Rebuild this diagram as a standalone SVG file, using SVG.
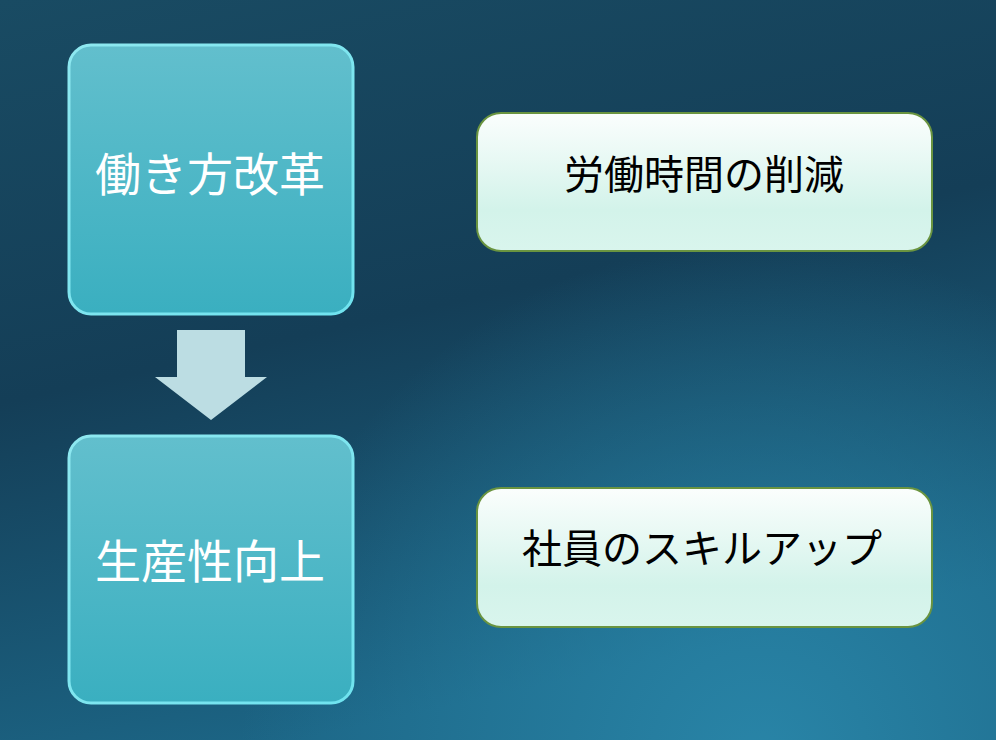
<svg xmlns="http://www.w3.org/2000/svg" width="996" height="740" viewBox="0 0 996 740">
<defs>
<linearGradient id="bg" x1="0" y1="0" x2="0.3" y2="1">
<stop offset="0" stop-color="#194b63"/>
<stop offset="0.5" stop-color="#143e57"/>
<stop offset="1" stop-color="#1c6585"/>
</linearGradient>
<radialGradient id="glow" cx="760" cy="760" r="520" gradientUnits="userSpaceOnUse">
<stop offset="0" stop-color="#2a88ab" stop-opacity="0.9"/>
<stop offset="1" stop-color="#2a88ab" stop-opacity="0"/>
</radialGradient>
<linearGradient id="teal" x1="0" y1="0" x2="0" y2="1">
<stop offset="0" stop-color="#62bfcd"/>
<stop offset="1" stop-color="#3aafc0"/>
</linearGradient>
<linearGradient id="rim" x1="0" y1="0" x2="1" y2="1">
<stop offset="0" stop-color="#8ee8f0"/>
<stop offset="1" stop-color="#6fe3ef"/>
</linearGradient>
<linearGradient id="mint" x1="0" y1="0" x2="0" y2="1">
<stop offset="0" stop-color="#fbfefd"/>
<stop offset="0.7" stop-color="#d3f3ea"/>
<stop offset="1" stop-color="#d9f5ed"/>
</linearGradient>
<style>
.lbox{fill:url(#teal);stroke:url(#rim);stroke-width:3}
.rbox{fill:url(#mint);stroke:#6a9440;stroke-width:2}
.lt{font-family:"Noto Sans CJK JP","Noto Sans",sans-serif;font-size:46px;fill:#ffffff;text-anchor:middle;dominant-baseline:central}
.rt{font-family:"Noto Sans CJK JP","Noto Sans",sans-serif;font-size:40px;fill:#000000;text-anchor:middle;dominant-baseline:central}
</style>
</defs>
<rect width="996" height="740" fill="url(#bg)"/>
<rect width="996" height="740" fill="url(#glow)"/>
<g id="node-hatarakikata">
<rect class="lbox" x="69" y="45" width="284" height="269" rx="22"/>
<text class="lt" x="210" y="171">働き方改革</text>
</g>
<g id="node-seisansei">
<rect class="lbox" x="69" y="436" width="284" height="267" rx="22"/>
<text class="lt" x="210" y="558">生産性向上</text>
</g>
<g id="node-roudou">
<rect class="rbox" x="477" y="113" width="455" height="138" rx="24"/>
<text class="rt" x="704" y="172">労働時間の削減</text>
</g>
<g id="node-skill">
<rect class="rbox" x="477" y="488" width="455" height="139" rx="24"/>
<text class="rt" x="702" y="546">社員のスキルアップ</text>
</g>
<g id="connectors">
<polygon points="177,330 245,330 245,377 267,377 211,420 155,377 177,377" fill="#bcdde3"/>
</g>
</svg>
